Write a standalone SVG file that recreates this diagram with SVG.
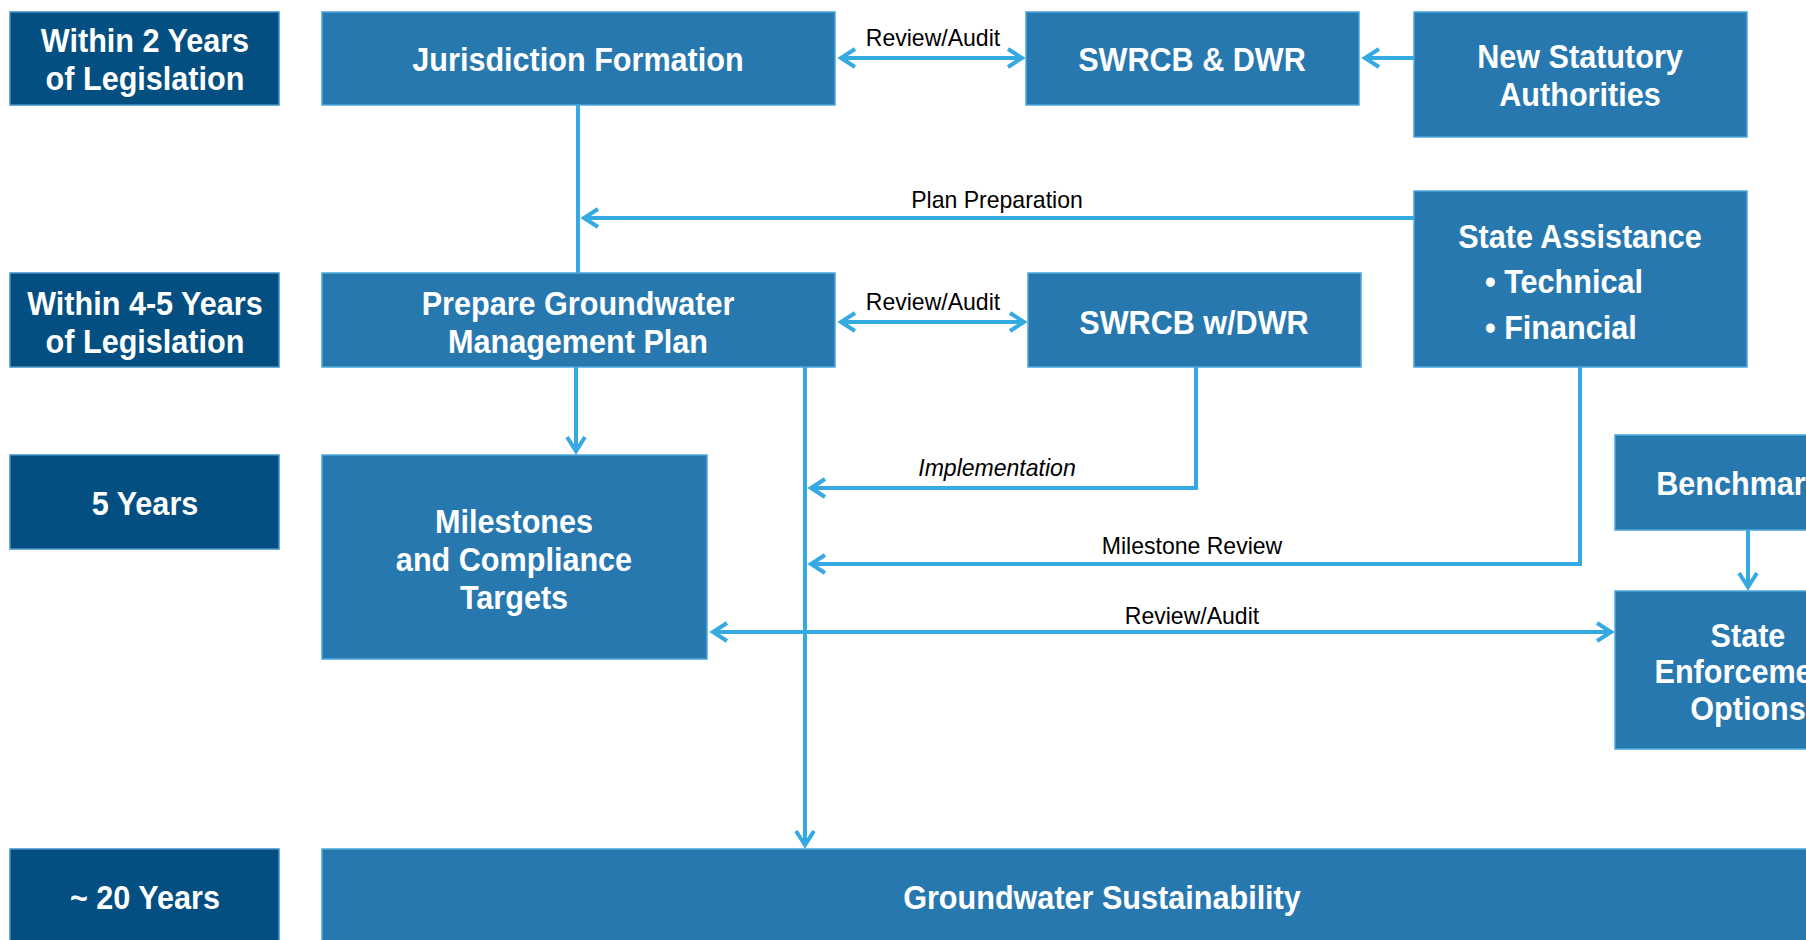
<svg xmlns="http://www.w3.org/2000/svg" width="1806" height="940" viewBox="0 0 1806 940">
<defs>
<style>
.nav{fill:#034f81;stroke:#3f8fc4;stroke-width:1.5}
.box{fill:#2878b0;stroke:#4aa6dc;stroke-width:1.5}
.t{font-family:"Liberation Sans",Arial,sans-serif;font-weight:bold;font-size:34px;fill:#ffffff;text-anchor:middle;transform-box:fill-box;transform-origin:center;transform:scaleX(0.9)}
.tl{font-family:"Liberation Sans",Arial,sans-serif;font-weight:bold;font-size:34px;fill:#ffffff;text-anchor:start;transform-box:fill-box;transform-origin:left;transform:scaleX(0.9)}
.lbl{font-family:"Liberation Sans",Arial,sans-serif;font-size:24px;fill:#000000;text-anchor:middle;transform-box:fill-box;transform-origin:center;transform:scaleX(0.96)}
.c{fill:none;stroke:#35a9e1;stroke-width:4}
</style>
<marker id="ah" markerUnits="userSpaceOnUse" markerWidth="24" markerHeight="24" viewBox="0 0 24 24" refX="20" refY="12" orient="auto-start-reverse">
<path d="M6,3 L20,12 L6,21" fill="none" stroke="#35a9e1" stroke-width="4"/>
</marker>
</defs>
<rect width="1806" height="940" fill="#ffffff"/>
<g id="connectors">
<line class="c" x1="841" y1="58" x2="1022" y2="58" marker-start="url(#ah)" marker-end="url(#ah)"/>
<line class="c" x1="1414" y1="58" x2="1365" y2="58" marker-end="url(#ah)"/>
<line class="c" x1="578" y1="105" x2="578" y2="273"/>
<line class="c" x1="1414" y1="218" x2="584" y2="218" marker-end="url(#ah)"/>
<line class="c" x1="841" y1="322" x2="1024" y2="322" marker-start="url(#ah)" marker-end="url(#ah)"/>
<line class="c" x1="576" y1="367" x2="576" y2="451" marker-end="url(#ah)"/>
<line class="c" x1="805" y1="367" x2="805" y2="845" marker-end="url(#ah)"/>
<polyline class="c" points="1196,367 1196,488 811,488" marker-end="url(#ah)"/>
<polyline class="c" points="1580,367 1580,564 811,564" marker-end="url(#ah)"/>
<line class="c" x1="713" y1="632" x2="1611" y2="632" marker-start="url(#ah)" marker-end="url(#ah)"/>
<line class="c" x1="1748" y1="530" x2="1748" y2="587" marker-end="url(#ah)"/>
<text class="lbl" x="933" y="46">Review/Audit</text>
<text class="lbl" x="997" y="208">Plan Preparation</text>
<text class="lbl" x="933" y="310">Review/Audit</text>
<text class="lbl" x="997" y="476" font-style="italic">Implementation</text>
<text class="lbl" x="1192" y="554">Milestone Review</text>
<text class="lbl" x="1192" y="624">Review/Audit</text>
</g>
<g id="t1"><rect class="nav" x="10" y="12" width="269" height="93"/><text class="t" x="145" y="52">Within 2 Years</text><text class="t" x="145" y="90">of Legislation</text></g>
<g id="t2"><rect class="nav" x="10" y="273" width="269" height="94"/><text class="t" x="145" y="315">Within 4-5 Years</text><text class="t" x="145" y="353">of Legislation</text></g>
<g id="t3"><rect class="nav" x="10" y="455" width="269" height="94"/><text class="t" x="145" y="515">5 Years</text></g>
<g id="t4"><rect class="nav" x="10" y="849" width="269" height="100"/><text class="t" x="145" y="909">~ 20 Years</text></g>
<g id="jurisdiction"><rect class="box" x="322" y="12" width="513" height="93"/><text class="t" x="578" y="71">Jurisdiction Formation</text></g>
<g id="swrcb-dwr"><rect class="box" x="1026" y="12" width="333" height="93"/><text class="t" x="1192" y="71">SWRCB &amp; DWR</text></g>
<g id="statutory"><rect class="box" x="1414" y="12" width="333" height="125"/><text class="t" x="1580" y="68">New Statutory</text><text class="t" x="1580" y="106">Authorities</text></g>
<g id="assistance"><rect class="box" x="1414" y="191" width="333" height="176"/><text class="t" x="1580" y="248">State Assistance</text><text class="tl" x="1485" y="293">• Technical</text><text class="tl" x="1485" y="339">• Financial</text></g>
<g id="prepare"><rect class="box" x="322" y="273" width="513" height="94"/><text class="t" x="578" y="315">Prepare Groundwater</text><text class="t" x="578" y="353">Management Plan</text></g>
<g id="swrcb-w-dwr"><rect class="box" x="1028" y="273" width="333" height="94"/><text class="t" x="1194" y="334">SWRCB w/DWR</text></g>
<g id="milestones"><rect class="box" x="322" y="455" width="385" height="204"/><text class="t" x="514" y="533">Milestones</text><text class="t" x="514" y="571">and Compliance</text><text class="t" x="514" y="609">Targets</text></g>
<g id="benchmarks"><rect class="box" x="1615" y="435" width="266" height="95"/><text class="t" x="1748" y="495">Benchmarks</text></g>
<g id="enforcement"><rect class="box" x="1615" y="591" width="266" height="158"/><text class="t" x="1748" y="647">State</text><text class="t" x="1748" y="683">Enforcement</text><text class="t" x="1748" y="720">Options</text></g>
<g id="sustainability"><rect class="box" x="322" y="849" width="1560" height="100"/><text class="t" x="1102" y="909">Groundwater Sustainability</text></g>
</svg>
